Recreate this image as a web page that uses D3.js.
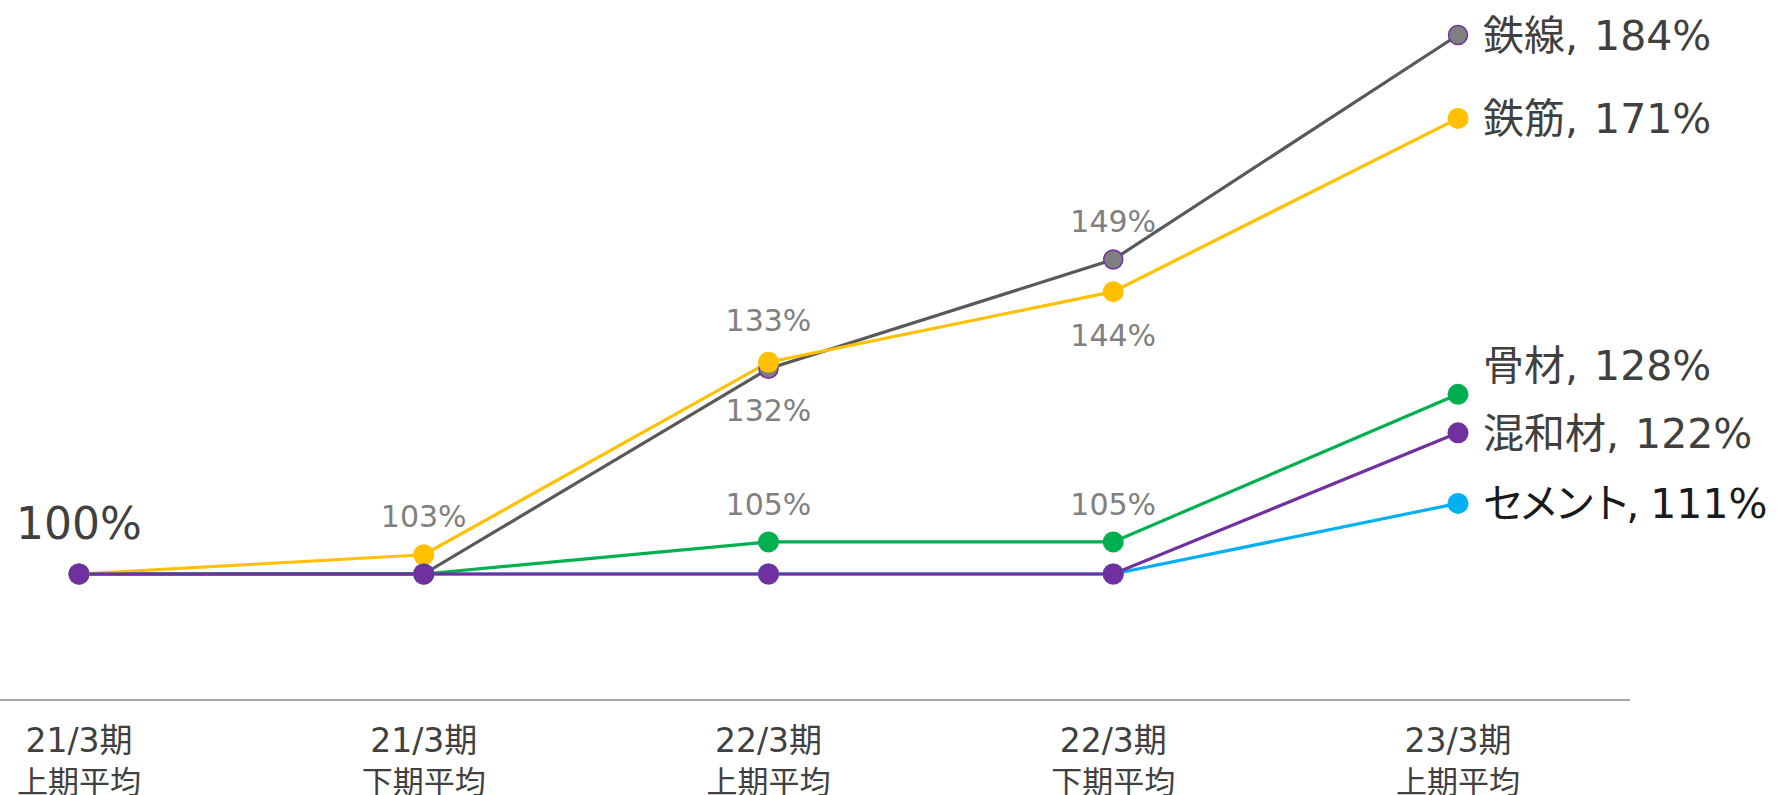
<!DOCTYPE html>
<html>
<head>
<meta charset="utf-8">
<script src="https://cdn.jsdelivr.net/npm/d3@7"></script>
<style>
  body { margin: 0; background: #fff; }
  svg { display: block; font-family: "DejaVu Sans", "Noto Sans CJK JP", sans-serif; }
</style>
</head>
<body>
<svg id="canvas"></svg>
<script>
let periods = ['21/3期|上期平均', '21/3期|下期平均', '22/3期|上期平均', '22/3期|下期平均', '23/3期|上期平均']

// drawn bottom first
let seriesNames = ['セメント', '鉄線', '鉄筋', '骨材', '混和材']
let cement = [100, 100, 100, 100, 111]
let wire = [100, 100, 132, 149, 184]
let rebar = [100, 103, 133, 144, 171]
let aggregate = [100, 100, 105, 105, 128]
let admixture = [100, 100, 100, 100, 122]

let lineColors = ['#00b0f0', '#595959', '#ffc000', '#00b050', '#7030a0']
let dotColors = ['#00b0f0', '#7f7f7f', '#ffc000', '#00b050', '#7030a0']

// data labels: [series index, point index, dy from point, colour, size]
let pointLabels = [
  [4, 0, -35, '#404040', 44],
  [2, 1, -28, '#808080', 30],
  [2, 2, -31, '#808080', 30],
  [1, 2, 52, '#808080', 30],
  [3, 2, -27, '#808080', 30],
  [3, 3, -27, '#808080', 30],
  [2, 3, 54, '#808080', 30],
  [1, 3, -28, '#808080', 30]
]
let endLabelY = [503, 35, 118, 365, 433]

let w = 1785
let h = 795

let allSeries = [cement, wire, rebar, aggregate, admixture]

let canvas = d3.select('#canvas').attr('width', w).attr('height', h)

let xScale = d3.scalePoint()
  .domain(periods)
  .range([79, 1458])

let yScale = d3.scaleLinear()
  .domain([100, 184])
  .range([574, 35])

// baseline axis
let xAxis = d3.axisBottom(xScale).tickSize(0).tickFormat('')
let axisG = canvas.append('g')
  .attr('transform', 'translate(0,700)')
  .call(xAxis)
axisG.select('.domain').remove()
axisG.append('line')
  .attr('x1', 0).attr('x2', 1630)
  .attr('stroke', '#a6a6a6').attr('stroke-width', 2)

periods.forEach((p) => {
  let parts = p.split('|')
  canvas.append('text')
    .attr('x', xScale(p))
    .attr('y', 752)
    .attr('text-anchor', 'middle')
    .attr('fill', '#404040')
    .attr('font-size', 33)
    .text(parts[0])
  canvas.append('text')
    .attr('x', xScale(p))
    .attr('y', 793)
    .attr('text-anchor', 'middle')
    .attr('fill', '#404040')
    .attr('font-size', 31)
    .text(parts[1])
})

let line = d3.line()
  .x((d, i) => xScale(periods[i]))
  .y((d) => yScale(d))

allSeries.forEach((values, s) => {
  canvas.append('path')
    .datum(values)
    .attr('d', line)
    .attr('fill', 'none')
    .attr('stroke', lineColors[s])
    .attr('stroke-width', 3.2)
})

allSeries.forEach((values, s) => {
  canvas.selectAll('.dot' + s)
    .data(values)
    .enter()
    .append('circle')
    .attr('cx', (d, i) => xScale(periods[i]))
    .attr('cy', (d) => yScale(d))
    .attr('r', (d, i) => s == 1 ? 9.5 : 10.5)
    .attr('fill', dotColors[s])
    .attr('stroke', s == 1 ? '#7030a0' : 'none')
    .attr('stroke-width', 1.5)
})

pointLabels.forEach((l) => {
  let v = allSeries[l[0]][l[1]]
  canvas.append('text')
    .attr('x', xScale(periods[l[1]]))
    .attr('y', yScale(v) + l[2])
    .attr('text-anchor', 'middle')
    .attr('fill', l[3])
    .attr('font-size', l[4])
    .text(v + '%')
})

allSeries.forEach((values, s) => {
  let t = canvas.append('text')
    .attr('x', 1483)
    .attr('y', endLabelY[s])
    .attr('dy', '0.36em')
    .attr('fill', s == 0 ? '#1a1a1a' : '#404040')
    .attr('font-size', 41)
  // katakana is set proportionally in the original
  let kana = /[\u30a0-\u30ff]/.test(seriesNames[s])
  t.append('tspan')
    .attr('letter-spacing', kana ? -5 : 0)
    .text(seriesNames[s] + ',')
  t.append('tspan')
    .attr('dx', 16)
    .text(values[4] + '%')
})
</script>
</body>
</html>
